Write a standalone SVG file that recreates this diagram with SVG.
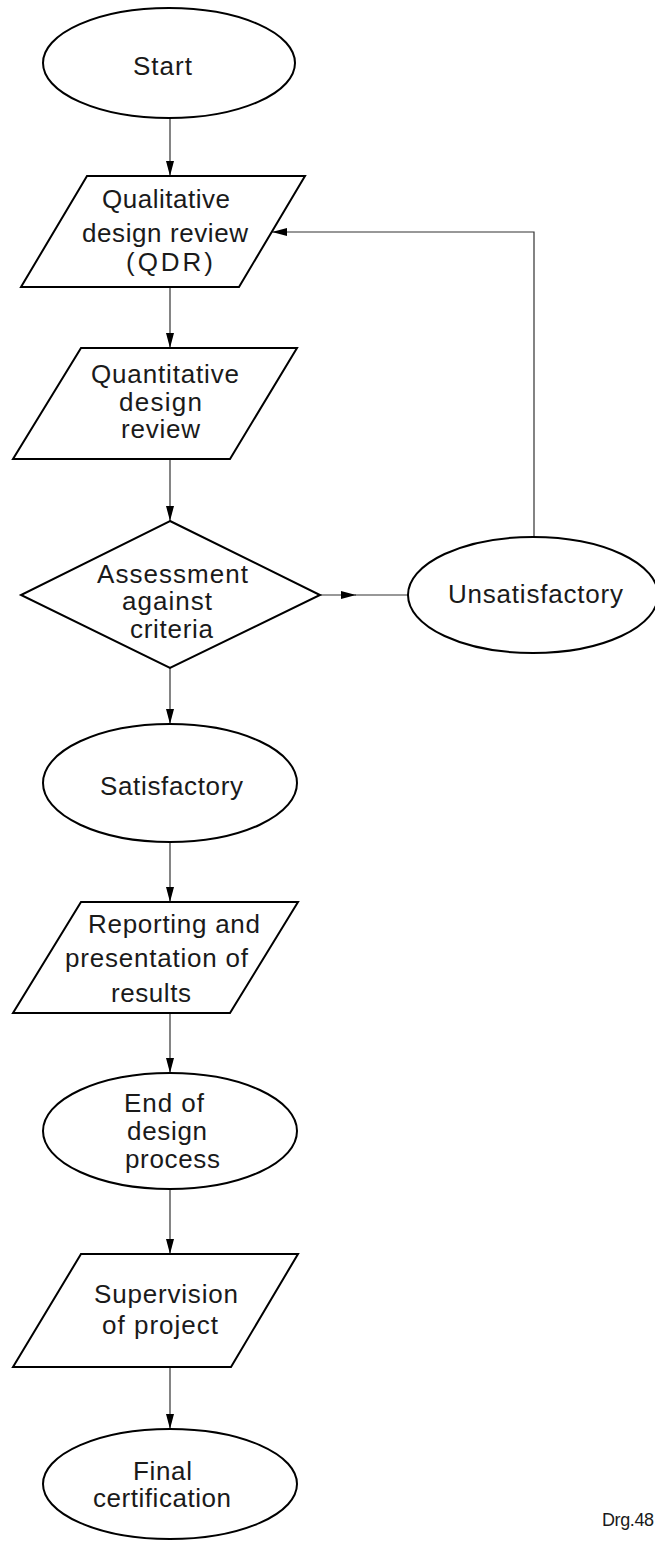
<svg xmlns="http://www.w3.org/2000/svg" width="655" height="1541" viewBox="0 0 655 1541">
<style>
.shape{fill:#ffffff;stroke:#000000;stroke-width:2}
.conn{fill:none;stroke:#333333;stroke-width:1.2}
.lbl{font-family:"Liberation Sans",Arial,sans-serif;font-size:26px;fill:#1a1a1a}
.note{font-family:"Liberation Sans",Arial,sans-serif;font-size:18px;fill:#1a1a1a}
</style>
<defs>
<marker id="arr" markerUnits="userSpaceOnUse" markerWidth="16" markerHeight="10" refX="15" refY="4" orient="auto">
<path d="M0,0 L15,4 L0,8 Z" fill="#000000"/>
</marker>
</defs>
<rect width="655" height="1541" fill="#ffffff"/>
<g id="connectors">
<path class="conn" d="M170,117 V176" marker-end="url(#arr)"/>
<path class="conn" d="M170,287 V348" marker-end="url(#arr)"/>
<path class="conn" d="M170,459 V521" marker-end="url(#arr)"/>
<path class="conn" d="M170,668 V724" marker-end="url(#arr)"/>
<path class="conn" d="M170,842 V902" marker-end="url(#arr)"/>
<path class="conn" d="M170,1013 V1073" marker-end="url(#arr)"/>
<path class="conn" d="M170,1190 V1254" marker-end="url(#arr)"/>
<path class="conn" d="M170,1367 V1429" marker-end="url(#arr)"/>
<path class="conn" d="M320,595 H356" marker-end="url(#arr)"/>
<path class="conn" d="M355,595 H408"/>
<path class="conn" d="M534,537 V232 H272" marker-end="url(#arr)"/>
</g>
<g id="start">
<ellipse class="shape" cx="169" cy="63" rx="126" ry="55"/>
<text class="lbl" x="133" y="75" textLength="59">Start</text>
</g>
<g id="qdr">
<polygon class="shape" points="87,176 305,176 239,287 21,287"/>
<text class="lbl" x="102" y="208" textLength="128">Qualitative</text>
<text class="lbl" x="82" y="242" textLength="166">design review</text>
<text class="lbl" x="126" y="271" textLength="87">(QDR)</text>
</g>
<g id="quantitative">
<polygon class="shape" points="81,348 297,348 230,459 13,459"/>
<text class="lbl" x="91" y="383" textLength="148">Quantitative</text>
<text class="lbl" x="119" y="411" textLength="83">design</text>
<text class="lbl" x="121" y="438" textLength="79">review</text>
</g>
<g id="assessment">
<polygon class="shape" points="170,521 320,595 170,668 21,595"/>
<text class="lbl" x="97" y="583" textLength="151">Assessment</text>
<text class="lbl" x="122" y="610" textLength="90">against</text>
<text class="lbl" x="130" y="638" textLength="83">criteria</text>
</g>
<g id="unsatisfactory">
<ellipse class="shape" cx="533" cy="595" rx="125" ry="58"/>
<text class="lbl" x="448" y="603" textLength="175">Unsatisfactory</text>
</g>
<g id="satisfactory">
<ellipse class="shape" cx="170" cy="783" rx="127" ry="59"/>
<text class="lbl" x="100" y="795" textLength="143">Satisfactory</text>
</g>
<g id="reporting">
<polygon class="shape" points="81,902 298,902 230,1013 13,1013"/>
<text class="lbl" x="88" y="933" textLength="172">Reporting and</text>
<text class="lbl" x="65" y="967" textLength="183">presentation of</text>
<text class="lbl" x="111" y="1002" textLength="80">results</text>
</g>
<g id="end">
<ellipse class="shape" cx="170" cy="1131" rx="127" ry="58"/>
<text class="lbl" x="124" y="1112" textLength="80">End of</text>
<text class="lbl" x="127" y="1140" textLength="80">design</text>
<text class="lbl" x="125" y="1168" textLength="95">process</text>
</g>
<g id="supervision">
<polygon class="shape" points="81,1254 298,1254 231,1367 13,1367"/>
<text class="lbl" x="94" y="1303" textLength="144">Supervision</text>
<text class="lbl" x="102" y="1334" textLength="116">of project</text>
</g>
<g id="final">
<ellipse class="shape" cx="170" cy="1484" rx="127" ry="55"/>
<text class="lbl" x="133" y="1480" textLength="59">Final</text>
<text class="lbl" x="93" y="1507" textLength="138">certification</text>
</g>
<text class="note" x="602" y="1526" textLength="52">Drg.48</text>
</svg>
